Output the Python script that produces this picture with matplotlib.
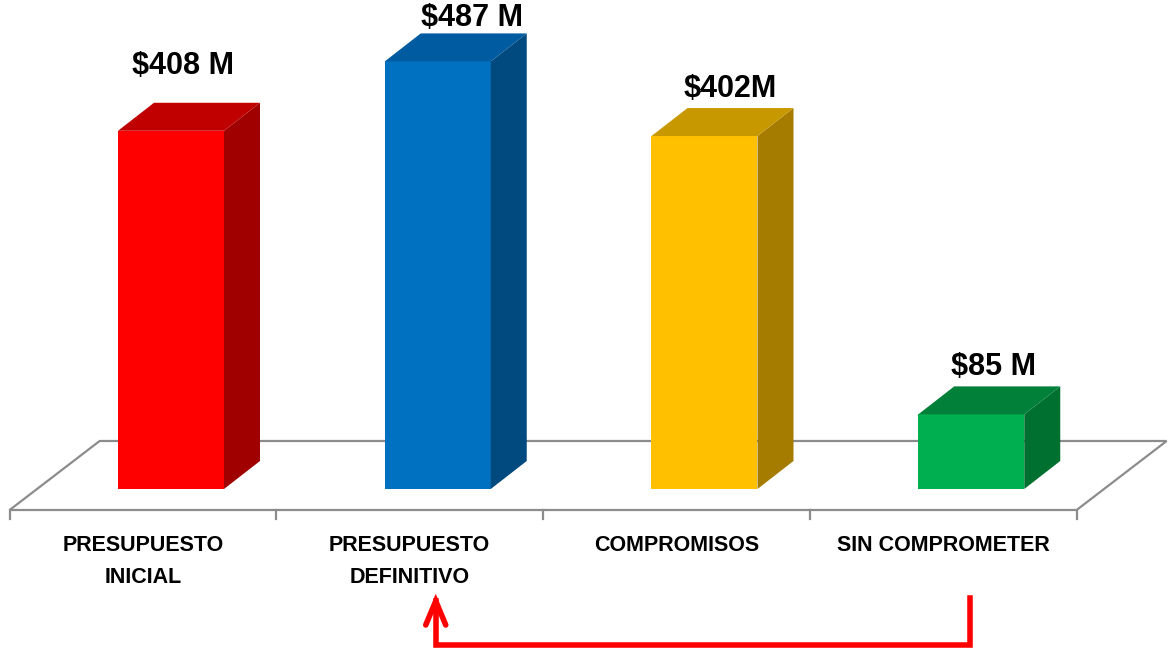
import matplotlib.pyplot as plt
from matplotlib.patches import Polygon

# datos
categorias = ["PRESUPUESTO\nINICIAL", "PRESUPUESTO\nDEFINITIVO", "COMPROMISOS", "SIN COMPROMETER"]
valores = [408, 487, 402, 85]
etiquetas = ["$408 M", "$487 M", "$402M", "$85 M"]
col_frente = ["#FF0000", "#0070C0", "#FFC000", "#00B050"]
col_tapa = ["#C00000", "#005BA0", "#C89800", "#008038"]
col_lado = ["#A00000", "#004A80", "#A67C00", "#007030"]

# escala: px por unidad en cada eje
PX_X = 266.75
PX_Y = 0.878

fig = plt.figure(figsize=(11.72, 6.56), dpi=100)
ax = fig.add_axes([0, 0, 1, 1])
ax.set_xlim(-143 / PX_X, (1172 - 143) / PX_X)
ax.set_ylim((489 - 656) / PX_Y, 489 / PX_Y)
ax.axis("off")

def px(dx, dy):
    return dx / PX_X, dy / PX_Y

# piso en perspectiva
fdx, fdy = px(90, 69)
f0 = -21 / PX_Y
piso = [(-0.5, f0), (3.5, f0), (3.5 + fdx, f0 + fdy), (-0.5 + fdx, f0 + fdy)]
ax.add_patch(Polygon(piso, closed=True, facecolor="white", edgecolor="#8C8C8C", lw=1.6, zorder=1))
tx, ty = px(0, 9)
for t in range(5):
    ax.plot([t - 0.5, t - 0.5], [f0, f0 - ty], color="#8C8C8C", lw=1.6, zorder=1)

# barras 3D
ancho = 106 / PX_X
off_x = 28 / PX_X
bdx, bdy = px(36, 28)
lab_dx = [-14, 8, 0, -4]
lab_dy = [18, -4, 0, 0]
for i, v in enumerate(valores):
    x0 = i + off_x - ancho / 2
    x1 = x0 + ancho
    ax.add_patch(Polygon([(x0, 0), (x1, 0), (x1, v), (x0, v)], facecolor=col_frente[i], edgecolor="none", zorder=3))
    ax.add_patch(Polygon([(x1, 0), (x1 + bdx, bdy), (x1 + bdx, v + bdy), (x1, v)], facecolor=col_lado[i], edgecolor="none", zorder=3))
    ax.add_patch(Polygon([(x0, v), (x1, v), (x1 + bdx, v + bdy), (x0 + bdx, v + bdy)], facecolor=col_tapa[i], edgecolor="none", zorder=3))
    ax.text(i + off_x + (26 + lab_dx[i]) / PX_X, v + bdy + (4 + lab_dy[i]) / PX_Y, etiquetas[i],
            ha="center", va="bottom", fontsize=22, fontweight="bold", family="Liberation Sans", zorder=4)
    ax.text(i, -46 / PX_Y, categorias[i], ha="center", va="top", fontsize=15.5, fontweight="bold",
            family="Liberation Sans", linespacing=1.7)

# flecha roja
xa, xb = 3 + (970 - 943) / PX_X, 1 + (436 - 410) / PX_X
ya, yb, yt = -109 / PX_Y, -156 / PX_Y, -112 / PX_Y
ax.plot([xa, xa, xb, xb], [ya, yb, yb, yt], color="#FF0000", lw=4, solid_joinstyle="miter", zorder=5)
hx, hy = px(10, 24)
ax.plot([xb - hx, xb, xb + hx], [yt - hy, yt, yt - hy], color="#FF0000", lw=4,
        solid_capstyle="round", solid_joinstyle="miter", zorder=5)

fig.savefig("out.png", dpi=100)
